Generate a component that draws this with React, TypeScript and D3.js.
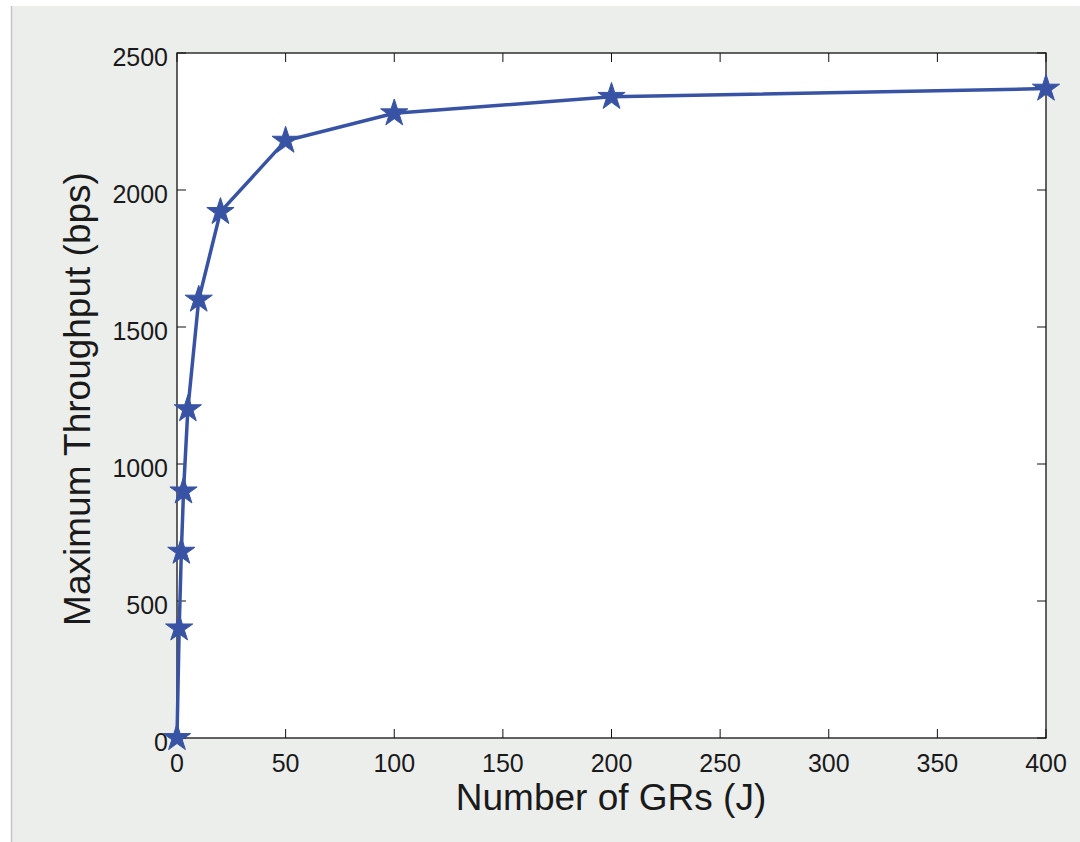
import React from 'react';
import * as d3 from 'd3';

const groupCounts = [0, 1, 2, 3, 5, 10, 20, 50, 100, 200, 400];
const throughput = [0, 400, 680, 900, 1200, 1600, 1920, 2180, 2280, 2340, 2370];
const xTicks = [0, 50, 100, 150, 200, 250, 300, 350, 400];
const yTicks = [0, 500, 1000, 1500, 2000, 2500];

const W = 1080;
const H = 842;
const plot = { left: 177, right: 1046, top: 53, bottom: 738 };
const font = 'Liberation Sans, Arial, Helvetica, sans-serif';
const blue = '#3953a4';

const App = () => {
  const x = d3.scaleLinear().domain([0, 400]).range([plot.left, plot.right]);
  const y = d3.scaleLinear().domain([0, 2500]).range([plot.bottom, plot.top]);

  const points = groupCounts.map((g, i) => [x(g), y(throughput[i])] as [number, number]);
  const line = d3.line()(points) || '';
  const star = d3.symbol().type(d3.symbolStar).size(230)() || '';
  const tick = 9;

  return (
    <svg width={W} height={H} style={{ position: 'absolute', left: 0, top: 0 }}>
      <rect x={0} y={0} width={W} height={H} fill="#ffffff" />
      <rect x={11} y={6} width={W - 11} height={H - 6} fill="#eceeec" />
      <line x1={11.5} y1={6} x2={11.5} y2={H} stroke="#c4c6c4" strokeWidth={1.5} />

      <rect x={plot.left} y={plot.top} width={plot.right - plot.left} height={plot.bottom - plot.top}
        fill="#ffffff" stroke="#111" strokeWidth={1.3} />

      {xTicks.map(t => (
        <g key={'x' + t}>
          <line x1={x(t)} x2={x(t)} y1={plot.bottom} y2={plot.bottom - tick} stroke="#111" strokeWidth={1} />
          <line x1={x(t)} x2={x(t)} y1={plot.top} y2={plot.top + tick} stroke="#111" strokeWidth={1} />
          <text x={x(t)} y={plot.bottom + 34} textAnchor="middle" fontFamily={font} fontSize={25} fill="#1a1a1a">{t}</text>
        </g>
      ))}
      {yTicks.map(t => (
        <g key={'y' + t}>
          <line x1={plot.left} x2={plot.left + tick} y1={y(t)} y2={y(t)} stroke="#111" strokeWidth={1} />
          <line x1={plot.right} x2={plot.right - tick} y1={y(t)} y2={y(t)} stroke="#111" strokeWidth={1} />
          <text x={plot.left - 9} y={y(t) + 13} textAnchor="end" fontFamily={font} fontSize={25} fill="#1a1a1a">{t}</text>
        </g>
      ))}

      <path d={line} fill="none" stroke={blue} strokeWidth={3.5} strokeLinejoin="round" />
      {points.map(([px, py], i) => (
        <path key={i} d={star} transform={`translate(${px},${py})`} fill={blue} stroke={blue} strokeWidth={1} />
      ))}

      <text x={611} y={810} textAnchor="middle" fontFamily={font} fontSize={37} fill="#1a1a1a">Number of GRs (J)</text>
      <text transform={`translate(90,399) rotate(-90)`} textAnchor="middle" fontFamily={font} fontSize={37} fill="#1a1a1a">Maximum Throughput (bps)</text>
    </svg>
  );
};

export default App;
